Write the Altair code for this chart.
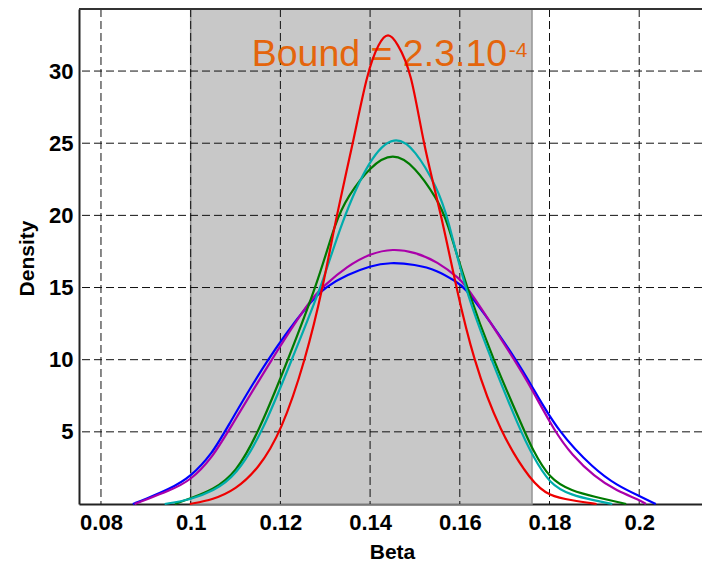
import altair as alt
import pandas as pd

# ---- data ----
x_ticks = [0.08, 0.1, 0.12, 0.14, 0.16, 0.18, 0.2]
y_ticks = [5, 10, 15, 20, 25, 30]

series_names = ["blue", "purple", "green", "cyan", "red"]
series_colors = ["#0000ff", "#aa00aa", "#007a00", "#00acac", "#ee0000"]

blue_x = [0.0871, 0.09, 0.095, 0.1, 0.105, 0.1076, 0.1169, 0.1265, 0.1303, 0.135, 0.14, 0.1444,
          0.15, 0.155, 0.1592, 0.1611, 0.165, 0.1726, 0.176, 0.1819, 0.19, 0.195, 0.2, 0.2037]
blue_y = [0, 0.35, 1.0, 1.85, 3.6, 5, 10, 14.0, 15.1, 15.9, 16.5, 16.75,
          16.6, 16.2, 15.4, 15, 13.4, 10, 8.2, 5, 2.4, 1.3, 0.55, 0]

purple_x = [0.0875, 0.09, 0.095, 0.1, 0.105, 0.1083, 0.118, 0.1265, 0.1296, 0.135, 0.14, 0.1451,
            0.15, 0.155, 0.16, 0.1618, 0.1722, 0.176, 0.1812, 0.185, 0.19, 0.195, 0.2, 0.2015]
purple_y = [0, 0.3, 0.9, 1.6, 3.3, 5, 10, 14.1, 15.1, 16.5, 17.35, 17.7,
            17.45, 16.8, 15.6, 15, 10, 8.0, 5, 3.4, 1.9, 0.9, 0.3, 0]

green_x = [0.0965, 0.1, 0.105, 0.11, 0.1152, 0.1217, 0.1284, 0.1323, 0.135, 0.14, 0.1451, 0.15,
           0.155, 0.157, 0.1615, 0.1674, 0.1745, 0.176, 0.18, 0.185, 0.19, 0.1971]
green_y = [0, 0.4, 1.0, 2.1, 5, 10, 15.4, 19.6, 21.3, 23.4, 24.4, 23.4,
           21.1, 19.8, 15, 10, 5, 3.9, 1.7, 0.9, 0.5, 0]

cyan_x = [0.0942, 0.1, 0.105, 0.11, 0.1161, 0.1225, 0.1296, 0.1333, 0.14, 0.1455, 0.15, 0.155,
          0.1574, 0.161, 0.167, 0.1736, 0.176, 0.18, 0.185, 0.19, 0.194]
cyan_y = [0, 0.3, 0.9, 1.9, 5, 10, 15.4, 19.3, 24.1, 25.6, 24.6, 21.9,
          19.8, 15, 10, 5, 3.5, 1.35, 0.6, 0.25, 0]

red_x = [0.0998, 0.105, 0.11, 0.115, 0.1202, 0.1256, 0.1295, 0.1325, 0.1362, 0.1394, 0.142, 0.144,
         0.146, 0.1492, 0.1518, 0.1559, 0.1592, 0.163, 0.1689, 0.176, 0.18, 0.185, 0.1905]
red_y = [0, 0.3, 1.0, 2.4, 5, 10, 15, 20, 25, 30, 32.0, 32.7,
         32.0, 30, 25, 20, 15, 10, 5, 1.5, 0.55, 0.25, 0]

bound_lo, bound_hi = 0.1, 0.1761
x_domain = [0.0751, 0.214]
y_domain = [0, 34.3]

ann_text = ["Bound = 2.3.10", "-4"]
ann_x = [0.1136, 0.1709]
ann_y = [30.32, 30.97]

# ---- tables ----
rows = []
for name, xs, ys in [("blue", blue_x, blue_y), ("purple", purple_x, purple_y),
                     ("green", green_x, green_y), ("cyan", cyan_x, cyan_y),
                     ("red", red_x, red_y)]:
    for i, (a, b) in enumerate(zip(xs, ys)):
        rows.append({"series": name, "beta": a, "density": b, "i": i})
df = pd.DataFrame(rows)
xt = pd.DataFrame({"beta": x_ticks})
yt = pd.DataFrame({"density": y_ticks})
shade_df = pd.DataFrame({"beta": [bound_lo], "hi": [bound_hi],
                         "density": [y_domain[0]], "top": [y_domain[1]]})
top_df = pd.DataFrame({"density": [y_domain[1]]})
main_df = pd.DataFrame({"beta": [ann_x[0]], "density": [ann_y[0]], "s": [ann_text[0]]})
sup_df = pd.DataFrame({"beta": [ann_x[1]], "density": [ann_y[1]], "s": [ann_text[1]]})

FONT = "Liberation Sans"
W, H = 623, 495

xscale = alt.Scale(domain=x_domain, nice=False, zero=False)
yscale = alt.Scale(domain=y_domain, nice=False, zero=False)

X_AX = alt.Axis(title="Beta", values=x_ticks, format="~g", grid=False,
                ticks=False, tickSize=0, labelPadding=8,
                labelFont=FONT, labelFontSize=22, labelFontWeight="bold",
                labelColor="#000000",
                domainColor="#222222", domainWidth=2,
                titleFont=FONT, titleFontSize=21, titleFontWeight="bold",
                titleColor="#000000",
                titleX=313, titleY=54, titleBaseline="alphabetic",
                titleAlign="center", labelFlush=False, labelOverlap=False)
Y_AX = alt.Axis(title="Density", values=y_ticks, format="d", grid=False,
                ticks=False, tickSize=0, labelPadding=6,
                labelFont=FONT, labelFontSize=22, labelFontWeight="bold",
                labelColor="#000000",
                domainColor="#222222", domainWidth=2,
                titleFont=FONT, titleFontSize=21, titleFontWeight="bold",
                titleColor="#000000", titleAngle=270,
                titleX=-46, titleY=249, titleBaseline="alphabetic",
                titleAlign="center", labelFlush=False, labelOverlap=False)


def X(field="beta"):
    return alt.X(f"{field}:Q", scale=xscale, axis=X_AX)


def Y(field="density"):
    return alt.Y(f"{field}:Q", scale=yscale, axis=Y_AX)


shade = alt.Chart(shade_df).mark_rect(
    color="#c8c8c8", stroke="#959595", strokeWidth=1.5
).encode(x=X(), x2="hi:Q", y=Y(), y2="top:Q")

vgrid = alt.Chart(xt).mark_rule(color="#111111", strokeWidth=1, strokeDash=[8, 4]).encode(x=X())
hgrid = alt.Chart(yt).mark_rule(color="#111111", strokeWidth=1, strokeDash=[8, 4]).encode(y=Y())

topline = alt.Chart(top_df).mark_rule(color="#333333", strokeWidth=2).encode(y=Y())

ann = alt.Chart(main_df).mark_text(
    font=FONT, fontSize=37.5, color="#e4650c", align="left", baseline="alphabetic"
).encode(x=X(), y=Y(), text="s:N")

sup = alt.Chart(sup_df).mark_text(
    font=FONT, fontSize=21, color="#e4650c", align="left", baseline="alphabetic"
).encode(x=X(), y=Y(), text="s:N")

lines = alt.Chart(df).mark_line(strokeWidth=2.2, interpolate="basis").encode(
    x=X(), y=Y(),
    color=alt.Color("series:N", scale=alt.Scale(domain=series_names, range=series_colors),
                    legend=None),
    order="i:Q",
)

chart = alt.layer(shade, vgrid, hgrid, ann, topline, lines, sup).properties(
    width=W, height=H,
    autosize=alt.AutoSizeParams(type="none"),
    padding={"left": 79, "top": 9, "right": 0, "bottom": 58},
    background="white",
).configure_view(strokeWidth=0)

chart.save("out.html", embed_options={"renderer": "svg", "actions": False})
